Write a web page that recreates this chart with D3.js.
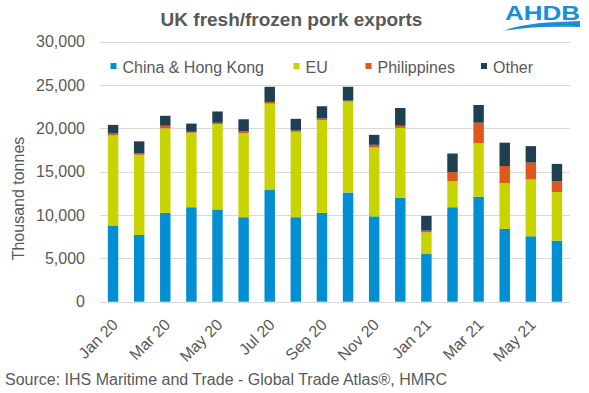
<!DOCTYPE html>
<html>
<head>
<meta charset="utf-8">
<script src="https://cdn.jsdelivr.net/npm/d3@7"></script>
<style>
  body { margin: 0; background: #fff; }
  text { font-family: "Liberation Sans", Arial, sans-serif; }
</style>
</head>
<body>
<div id="chart"></div>
<script>
// months and series (thousand tonnes)
var months = ["Jan 20","Feb 20","Mar 20","Apr 20","May 20","Jun 20","Jul 20","Aug 20","Sep 20",
              "Oct 20","Nov 20","Dec 20","Jan 21","Feb 21","Mar 21","Apr 21","May 21","Jun 21"];
var chinaHK =     [8800, 7700, 10250, 10900, 10650, 9750, 12950, 9750, 10250, 12600, 9850, 12000, 5500, 10900, 12100, 8400, 7550, 7050];
var eu =          [10400, 9250, 9750, 8600, 9850, 9700, 9900, 9850, 10700, 10500, 7950, 8050, 2500, 3000, 6200, 5300, 6550, 5600];
var philippines = [200, 150, 300, 100, 150, 200, 200, 150, 200, 100, 300, 250, 200, 1050, 2350, 1950, 1950, 1250];
var other =       [1000, 1400, 1150, 950, 1300, 1400, 1750, 1350, 1400, 1600, 1150, 2050, 1700, 2150, 2050, 2700, 1900, 2000];
var seriesNames = ["China & Hong Kong", "EU", "Philippines", "Other"];
var yTicks = [0, 5000, 10000, 15000, 20000, 25000, 30000];

var colors = ["#008fd3", "#c8d400", "#e0571a", "#1f4050"];
var textColor = "#595959";

var width = 589, height = 393;
var margin = {top: 41.7, right: 19, bottom: 91.3, left: 100};

var svg = d3.select("#chart")
  .append("svg")
  .attr("width", width)
  .attr("height", height);

// build rows for the stack
var rows = months.map(function(m, i) {
  return {month: m, s0: chinaHK[i], s1: eu[i], s2: philippines[i], s3: other[i]};
});
var stacked = d3.stack().keys(["s0", "s1", "s2", "s3"])(rows);

var x = d3.scaleBand()
  .domain(months)
  .range([margin.left, width - margin.right])
  .paddingInner(0.6)
  .paddingOuter(0.3);

var y = d3.scaleLinear()
  .domain([0, 30000])
  .range([height - margin.bottom, margin.top]);

// gridlines
svg.append("g")
  .selectAll("line")
  .data(yTicks)
  .enter()
  .append("line")
  .attr("x1", margin.left)
  .attr("x2", width - margin.right)
  .attr("y1", function(d) { return Math.round(y(d)) + 0.5; })
  .attr("y2", function(d) { return Math.round(y(d)) + 0.5; })
  .attr("stroke", "#d9d9d9")
  .attr("stroke-width", 1);

// Y axis labels
var yAxis = svg.append("g")
  .attr("transform", "translate(" + margin.left + ",0)")
  .call(d3.axisLeft(y).tickValues(yTicks).tickSize(0).tickPadding(15)
    .tickFormat(d3.format(",")));
yAxis.select(".domain").remove();
yAxis.selectAll("text")
  .attr("fill", textColor)
  .style("font-size", "16px");

// bars
svg.append("g")
  .selectAll("g")
  .data(stacked)
  .enter()
  .append("g")
  .attr("fill", function(d, i) { return colors[i]; })
  .selectAll("rect")
  .data(function(d) { return d; })
  .enter()
  .append("rect")
  .attr("x", function(d) { return x(d.data.month); })
  .attr("y", function(d) { return y(d[1]); })
  .attr("width", x.bandwidth())
  .attr("height", function(d) { return y(d[0]) - y(d[1]); });

// X axis labels, every other month
var xAxis = svg.append("g")
  .attr("transform", "translate(0," + (height - margin.bottom) + ")")
  .call(d3.axisBottom(x).tickSize(0).tickValues(months.filter(function(d, i) { return i % 2 === 0; })));
xAxis.select(".domain").remove();
xAxis.selectAll("text")
  .attr("fill", textColor)
  .style("font-size", "16px")
  .attr("text-anchor", "end")
  .attr("dy", null)
  .attr("y", 0)
  .attr("transform", "translate(6,24) rotate(-45)");

// y title
svg.append("text")
  .attr("transform", "translate(24,198.5) rotate(-90)")
  .attr("text-anchor", "middle")
  .attr("fill", textColor)
  .style("font-size", "16px")
  .text("Thousand tonnes");

// title
svg.append("text")
  .attr("x", 291.5)
  .attr("y", 26)
  .attr("text-anchor", "middle")
  .attr("fill", textColor)
  .style("font-size", "19px")
  .style("font-weight", "bold")
  .text("UK fresh/frozen pork exports");

// legend
var legendX = [110.5, 293.5, 365.5, 481];
var legend = svg.append("g")
  .selectAll("g")
  .data(seriesNames)
  .enter()
  .append("g")
  .attr("transform", function(d, i) { return "translate(" + legendX[i] + ",0)"; });
legend.append("rect")
  .attr("x", 0)
  .attr("y", 63)
  .attr("width", 6)
  .attr("height", 6)
  .attr("fill", function(d, i) { return colors[i]; });
legend.append("text")
  .attr("x", 12)
  .attr("y", 72.5)
  .attr("fill", textColor)
  .style("font-size", "16px")
  .text(function(d) { return d; });

// source note
svg.append("text")
  .attr("x", 5)
  .attr("y", 385)
  .attr("fill", textColor)
  .style("font-size", "16px")
  .text("Source: IHS Maritime and Trade - Global Trade Atlas\u00AE, HMRC");

// AHDB logo
var logo = svg.append("g");
logo.append("text")
  .attr("x", 505)
  .attr("y", 19.5)
  .attr("fill", "#1a8fd6")
  .attr("textLength", 75)
  .attr("lengthAdjust", "spacingAndGlyphs")
  .style("font-size", "20px")
  .style("font-weight", "bold")
  .text("AHDB");
logo.append("path")
  .attr("d", "M503,31 C520,24 545,22 580,21 L580,27 C550,26 525,27 503,31 Z")
  .attr("fill", "#1a8fd6");
</script>
</body>
</html>
